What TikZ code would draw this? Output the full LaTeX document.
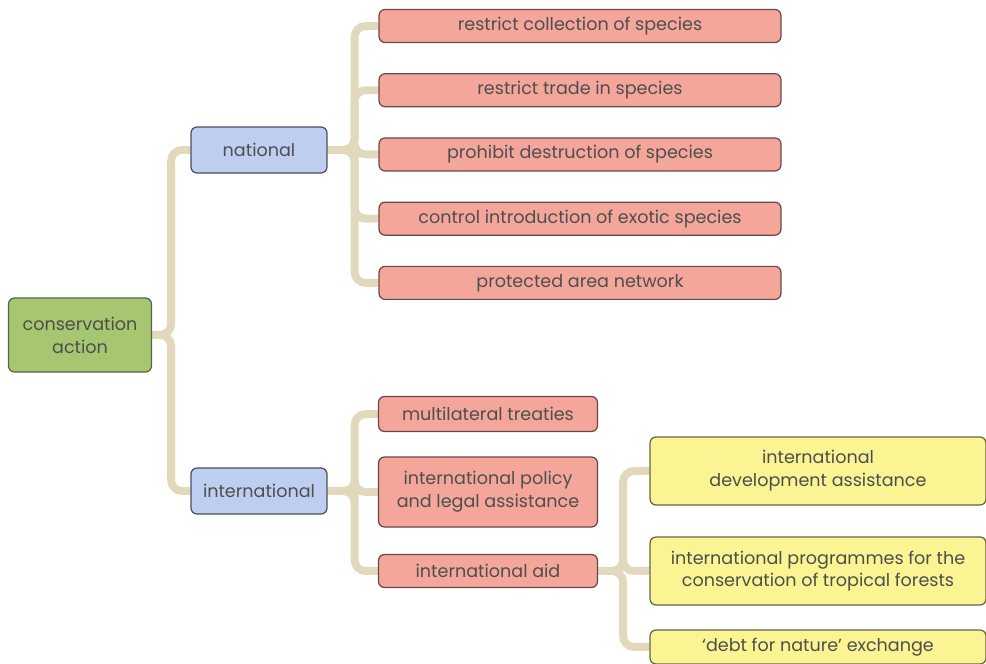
\documentclass[tikz,border=0pt]{standalone}
\usepackage{fontspec}
\setmainfont{Poppins}
\usetikzlibrary{positioning, backgrounds}

\definecolor{linkc}{RGB}{226,217,188}
\definecolor{txt}{RGB}{78,78,78}
\definecolor{rootfill}{RGB}{166,198,112}
\definecolor{rootline}{RGB}{88,102,72}
\definecolor{midfill}{RGB}{190,206,240}
\definecolor{midline}{RGB}{72,78,96}
\definecolor{leaffill}{RGB}{244,166,154}
\definecolor{leafline}{RGB}{104,72,72}
\definecolor{aidfill}{RGB}{250,244,146}
\definecolor{aidline}{RGB}{100,100,72}

\begin{document}
\begin{tikzpicture}[x=0.02cm,y=-0.02cm,
    box/.style={rounded corners=0.12cm, line width=0.7pt, align=center, text=txt,
                inner sep=0pt, font=\fontsize{10}{13}\selectfont},
    root node/.style={box, draw=rootline, fill=rootfill, minimum width=2.86cm, minimum height=1.48cm},
    mid node/.style={box, draw=midline, fill=midfill, minimum width=2.72cm, minimum height=0.92cm},
    leaf node/.style={box, draw=leafline, fill=leaffill, minimum height=0.66cm},
    aid node/.style={box, draw=aidline, fill=aidfill, minimum width=6.72cm},
    link/.style={draw=linkc, line width=4.5pt, rounded corners=0.22cm}]

  \useasboundingbox (0,0) rectangle (986,663);

  \node[root node] (ca) at (80,335) {conservation\\action};
  \node[mid node] (nat) at (259,150) {national};
  \node[mid node] (int) at (259,491) {international};

  % national measures
  \node[leaf node, minimum width=8.04cm] (r1) at (580,26) {restrict collection of species};
  \node[leaf node, minimum width=8.04cm] (r2) [below=0.6cm of r1] {restrict trade in species};
  \node[leaf node, minimum width=8.04cm] (r3) [below=0.6cm of r2] {prohibit destruction of species};
  \node[leaf node, minimum width=8.04cm] (r4) [below=0.6cm of r3] {control introduction of exotic species};
  \node[leaf node, minimum width=8.04cm] (r5) [below=0.6cm of r4] {protected area network};

  % international measures
  \node[leaf node, minimum width=4.38cm, minimum height=0.7cm] (m1) at (488,414) {multilateral treaties};
  \node[leaf node, minimum width=4.38cm, minimum height=1.4cm] (m2) at (488,492) {international policy\\and legal assistance};
  \node[leaf node, minimum width=4.38cm] (m3) at (488,571) {international aid};

  % kinds of aid
  \node[aid node, minimum height=1.36cm] (a1) at (818,471) {international\\development assistance};
  \node[aid node, minimum height=1.36cm] (a2) at (818,571) {international programmes for the\\conservation of tropical forests};
  \node[aid node, minimum height=0.68cm] (a3) at (818,647) {`debt for nature' exchange};

  \begin{scope}[on background layer]
    \path (ca.east) ++(19,0) coordinate (t0);
    \draw[link] (ca.east) -- (t0) |- (nat.west);
    \draw[link] (ca.east) -- (t0) |- (int.west);

    \path (nat.east) ++(27,0) coordinate (t1);
    \foreach \n in {r1,r2,r3,r4,r5}
      \draw[link] (nat.east) -- (t1) |- (\n.west);

    \path (int.east) ++(27,0) coordinate (t2);
    \foreach \n in {m1,m2,m3}
      \draw[link] (int.east) -- (t2) |- (\n.west);

    \path (m3.east) ++(25,0) coordinate (t3);
    \foreach \n in {a1,a2,a3}
      \draw[link] (m3.east) -- (t3) |- (\n.west);
  \end{scope}
\end{tikzpicture}
\end{document}
